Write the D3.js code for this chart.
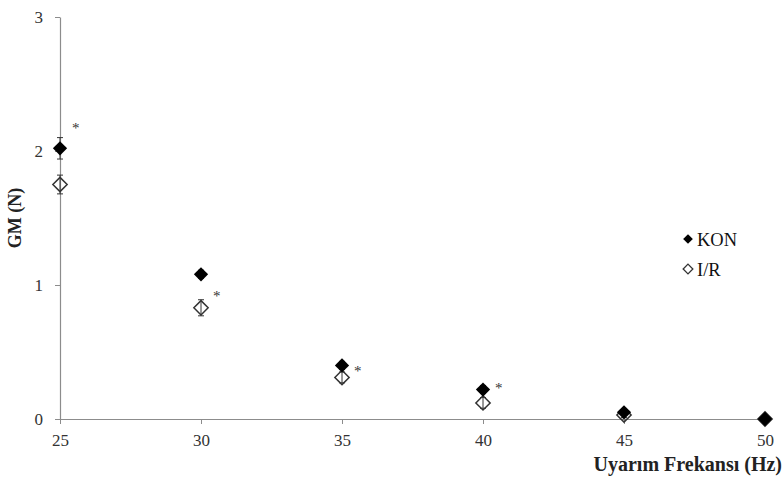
<!DOCTYPE html>
<html><head><meta charset="utf-8">
<script src="https://cdn.jsdelivr.net/npm/d3@7"></script>
<style>body{margin:0;background:#fff}svg{display:block}</style>
</head><body><svg id="c" width="783" height="478"></svg>
<script>
const freqs = [25, 30, 35, 40, 45, 50];
const konValues = [2.02, 1.08, 0.40, 0.22, 0.05, 0.00];
const konErr = [0.08, 0.03, 0.03, 0.03, 0.02, 0.01];
const irValues = [1.75, 0.83, 0.31, 0.12, 0.03, 0.00];
const irErr = [0.07, 0.06, 0.04, 0.04, 0.02, 0.01];
const sigFreqs = [25, 30, 35, 40];
const sigValues = [2.2, 0.95, 0.39, 0.26];
const yTicks = [0, 1, 2, 3];
const xLabel = "Uyarım Frekansı (Hz)";
const yLabel = "GM (N)";
const seriesNames = ["KON", "I/R"];

const svg = d3.select("#c");
const font = "Liberation Serif, Times New Roman, serif";
const x = d3.scaleLinear().domain([25, 50]).range([60, 765]);
const y = d3.scaleLinear().domain([0, 3]).range([419, 17]);

const xAxis = svg.append("g").attr("transform", `translate(0,${y(0)})`)
  .call(d3.axisBottom(x).tickValues(freqs).tickSize(5).tickSizeOuter(0).tickPadding(10));
const yAxis = svg.append("g").attr("transform", `translate(${x(25)},0)`)
  .call(d3.axisLeft(y).tickValues(yTicks).tickSize(5).tickSizeOuter(0).tickPadding(12).tickFormat(d3.format("d")));
[xAxis, yAxis].forEach(a => {
  a.select(".domain").attr("stroke", "#8c8c8c").attr("stroke-width", 1.2);
  a.selectAll(".tick line").attr("stroke", "#8c8c8c");
  a.selectAll(".tick text").attr("font-family", font).attr("font-size", 17).attr("fill", "#333");
});

svg.append("text").attr("x", 782).attr("y", 471).attr("text-anchor", "end")
  .attr("font-family", font).attr("font-weight", "bold").attr("font-size", 20).attr("fill", "#222")
  .text(xLabel);
svg.append("text").attr("transform", `translate(21,218) rotate(-90)`).attr("text-anchor", "middle")
  .attr("font-family", font).attr("font-weight", "bold").attr("font-size", 18).attr("fill", "#222")
  .text(yLabel);

const diamond = d3.symbol().type(d3.symbolDiamond2).size(130);
const diamondSmall = d3.symbol().type(d3.symbolDiamond2).size(60);

function errBars(vals, errs) {
  const g = svg.append("g");
  freqs.forEach((f, i) => {
    const cx = x(f), y1 = y(vals[i] + errs[i]), y2 = y(vals[i] - errs[i]);
    g.append("line").attr("x1", cx).attr("x2", cx).attr("y1", y1).attr("y2", y2).attr("stroke", "#333").attr("stroke-width", 1);
    [y1, y2].forEach(yy => g.append("line").attr("x1", cx - 3).attr("x2", cx + 3).attr("y1", yy).attr("y2", yy).attr("stroke", "#333"));
  });
}
errBars(irValues, irErr);
errBars(konValues, konErr);

svg.append("g").selectAll("path").data(freqs).join("path")
  .attr("d", diamond).attr("transform", (d, i) => `translate(${x(d)},${y(irValues[i])})`)
  .attr("fill", "none").attr("stroke", "#333").attr("stroke-width", 1.5);
svg.append("g").selectAll("path").data(freqs).join("path")
  .attr("d", diamond).attr("transform", (d, i) => `translate(${x(d)},${y(konValues[i])})`)
  .attr("fill", "#000");

svg.append("g").selectAll("text").data(sigFreqs).join("text")
  .attr("x", d => x(d) + 12).attr("y", (d, i) => y(sigValues[i]) + 9)
  .attr("font-family", font).attr("font-size", 15).attr("fill", "#333").text("*");

const leg = svg.append("g");
leg.append("path").attr("d", diamondSmall).attr("transform", "translate(688,239)").attr("fill", "#000");
leg.append("path").attr("d", diamondSmall).attr("transform", "translate(688,269)").attr("fill", "none").attr("stroke", "#333").attr("stroke-width", 1.3);
leg.append("text").attr("x", 697).attr("y", 246).attr("font-family", font).attr("font-size", 18.5).attr("fill", "#111").text(seriesNames[0]);
leg.append("text").attr("x", 697).attr("y", 276).attr("font-family", font).attr("font-size", 18.5).attr("fill", "#111").text(seriesNames[1]);
</script></body></html>
